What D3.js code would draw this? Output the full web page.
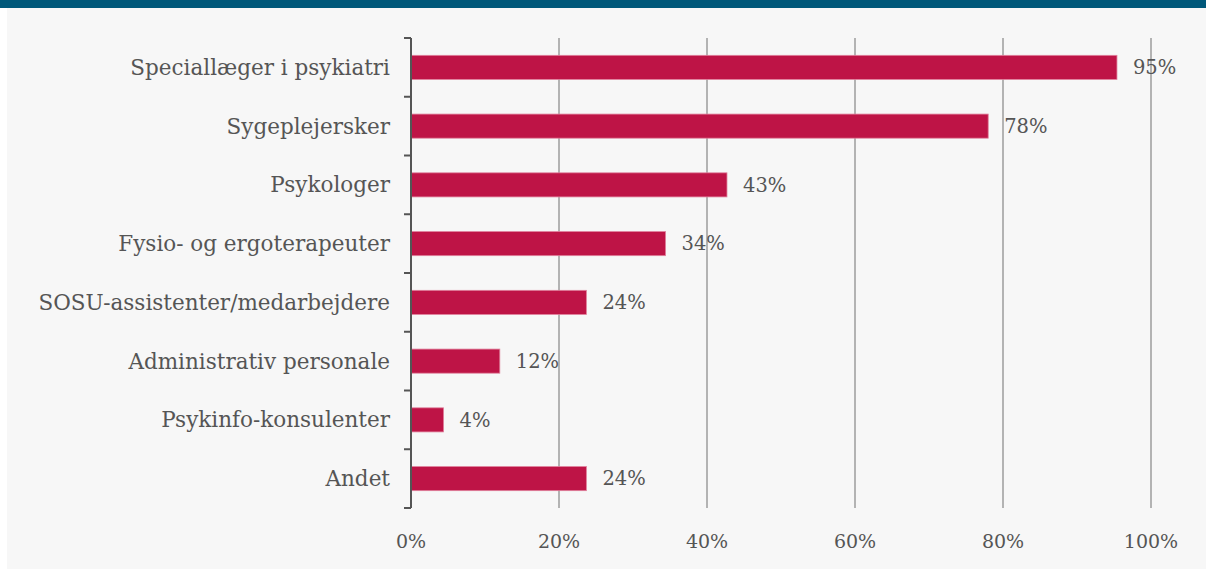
<!DOCTYPE html>
<html>
<head>
<meta charset="utf-8">
<script src="https://cdn.jsdelivr.net/npm/d3@7"></script>
<style>
  body { margin: 0; background: #ffffff; }
  svg text { font-family: "DejaVu Serif", "Liberation Serif", serif; fill: #555555; }
</style>
</head>
<body>
<svg id="chart" width="1206" height="569"></svg>
<script>
var categories = ["Speciallæger i psykiatri", "Sygeplejersker", "Psykologer",
    "Fysio- og ergoterapeuter", "SOSU-assistenter/medarbejdere",
    "Administrativ personale", "Psykinfo-konsulenter", "Andet"];
// shares; labels show them rounded
var values = [95.4, 78.0, 42.7, 34.4, 23.7, 12.0, 4.4, 23.7];
var xTicks = [0, 20, 40, 60, 80, 100];

var svg = d3.select("#chart");
var width = 1206, height = 569;
var margin = {top: 38, left: 411, right: 55, bottom: 61};

// background panel and top band
svg.append("rect").attr("x", 7).attr("y", 0).attr("width", width - 7).attr("height", height)
    .attr("fill", "#f7f7f7");
svg.append("rect").attr("x", 0).attr("y", 0).attr("width", width).attr("height", 8)
    .attr("fill", "#00587a");

var x = d3.scaleLinear().domain([0, 100]).range([margin.left, margin.left + 740]);
var y = d3.scaleBand().domain(categories).range([margin.top, height - margin.bottom])
    .paddingInner(0.59).paddingOuter(0.295);

// gridlines
svg.append("g").selectAll("line").data(xTicks.filter(function(d) { return d > 0; }))
    .enter().append("line")
    .attr("x1", function(d) { return x(d); })
    .attr("x2", function(d) { return x(d); })
    .attr("y1", margin.top)
    .attr("y2", height - margin.bottom)
    .attr("stroke", "#b3b3b3")
    .attr("stroke-width", 2);

// bars
svg.append("g").selectAll("rect").data(values).enter().append("rect")
    .attr("x", x(0))
    .attr("y", function(d, i) { return y(categories[i]); })
    .attr("width", function(d) { return x(d) - x(0); })
    .attr("height", y.bandwidth())
    .attr("fill", "#be1446")
    .attr("stroke", "#e0809c")
    .attr("stroke-width", 0.8);

// value labels
svg.append("g").selectAll("text").data(values).enter().append("text")
    .attr("x", function(d) { return x(d) + 16; })
    .attr("y", function(d, i) { return y(categories[i]) + y.bandwidth() / 2; })
    .attr("dy", "0.35em")
    .style("font-size", "19.5px")
    .text(function(d) { return Math.round(d) + "%"; });

// y axis with ticks at band boundaries
var step = y.step();
var bounds = d3.range(categories.length + 1).map(function(i) { return margin.top + i * step; });
var axisG = svg.append("g");
axisG.append("line")
    .attr("x1", x(0)).attr("x2", x(0))
    .attr("y1", margin.top).attr("y2", height - margin.bottom)
    .attr("stroke", "#555555").attr("stroke-width", 2);
axisG.selectAll("line.tick").data(bounds).enter().append("line")
    .attr("class", "tick")
    .attr("x1", x(0) - 7).attr("x2", x(0))
    .attr("y1", function(d) { return d; }).attr("y2", function(d) { return d; })
    .attr("stroke", "#555555").attr("stroke-width", 2);

axisG.selectAll("text").data(categories).enter().append("text")
    .attr("x", x(0) - 21)
    .attr("y", function(d) { return y(d) + y.bandwidth() / 2; })
    .attr("dy", "0.35em")
    .attr("text-anchor", "end")
    .style("font-size", "21.5px")
    .text(function(d) { return d; });

// x tick labels
svg.append("g").selectAll("text").data(xTicks).enter().append("text")
    .attr("x", function(d) { return x(d); })
    .attr("y", 541)
    .attr("dy", "0.35em")
    .attr("text-anchor", "middle")
    .style("font-size", "19px")
    .text(function(d) { return d + "%"; });
</script>
</body>
</html>
